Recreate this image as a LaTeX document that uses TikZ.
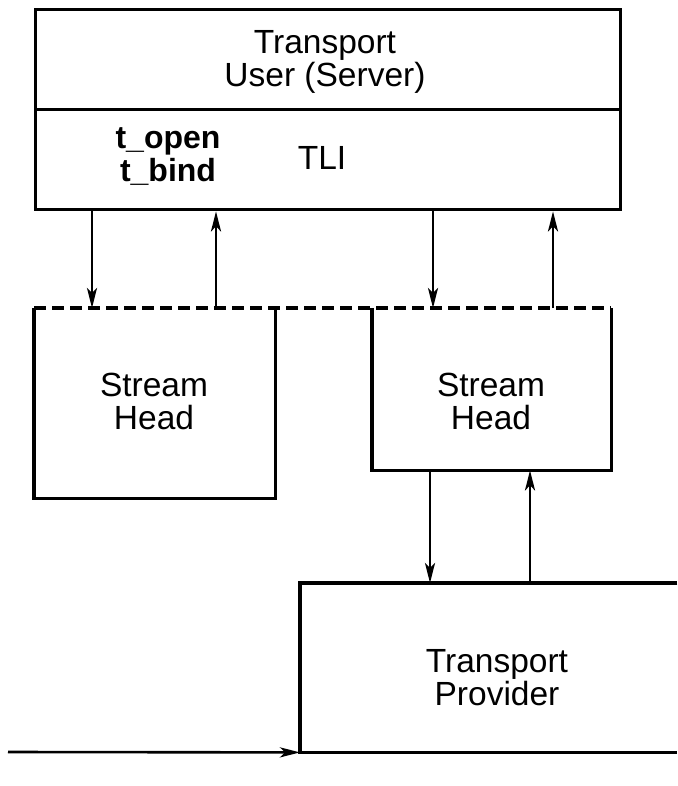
\documentclass[tikz,border=0pt]{standalone}
\usepackage{fontspec}
\setmainfont{Liberation Sans}
\usetikzlibrary{arrows.meta}
\begin{document}
\begin{tikzpicture}[x=1pt,y=-1pt,
  frame/.style={draw=none, inner sep=0pt, anchor=north west},
  boxline/.style={line width=3.4pt, line join=miter},
  dashline/.style={line width=3.4pt, dash pattern=on 12pt off 6pt},
  arr/.style={line width=2.6pt, -{Stealth[length=20pt,width=10pt,inset=5pt]}},
  lbl/.style={align=center, font=\fontsize{33.5}{33}\selectfont, inner sep=0pt}]
\useasboundingbox (0,0) rectangle (677,786);

% transport user with its TLI layer
\node[frame, draw, boxline, minimum width=585pt, minimum height=200pt] (user) at (34,8) {};
\draw[boxline] (user.west) -- (user.east);
\node[lbl] (title) at (325,62) {Transport\\User (Server)};
\node[lbl, font=\fontsize{32}{33}\selectfont\bfseries] (calls) at (168,157) {t\_open\\t\_bind};
\node[lbl] (tli) at (322,158) {TLI};

% stream heads, open at the top
\node[frame, minimum width=241pt, minimum height=190pt] (head1) at (34,308) {};
\node[frame, minimum width=239pt, minimum height=162pt] (head2) at (372,308) {};
\draw[boxline] (head1.north west) -- (head1.south west) -- (head1.south east) -- (head1.north east);
\draw[boxline] (head2.north west) -- (head2.south west) -- (head2.south east) -- (head2.north east);
\draw[dashline] (head1.north west) -- (head2.north east);
\node[lbl] (sh1) at (154,401) {Stream\\Head};
\node[lbl] (sh2) at (491,401) {Stream\\Head};

% transport provider, running off the right edge
\node[frame, minimum width=377pt, minimum height=169pt] (prov) at (300,583) {};
\draw[boxline] (prov.north east) -- (prov.north west) -- (prov.south west) -- (prov.south east);
\node[lbl] (provtext) at (497,678) {Transport\\Provider};

% messages between user and stream heads
\draw[arr] (92,0 |- user.south) -- (92,0 |- head1.north);
\draw[arr] (216,0 |- head1.north) -- (216,0 |- user.south);
\draw[arr] (433,0 |- user.south) -- (433,0 |- head2.north);
\draw[arr] (553,0 |- head2.north) -- (553,0 |- user.south);

% messages between stream head and provider
\draw[arr] (430,0 |- head2.south) -- (430,0 |- prov.north);
\draw[arr] (530,0 |- prov.north) -- (530,0 |- head2.south);

% incoming connection line
\coordinate (inlet) at (8,752);
\draw[arr] (inlet) -- (prov.south west);
\end{tikzpicture}
\end{document}
